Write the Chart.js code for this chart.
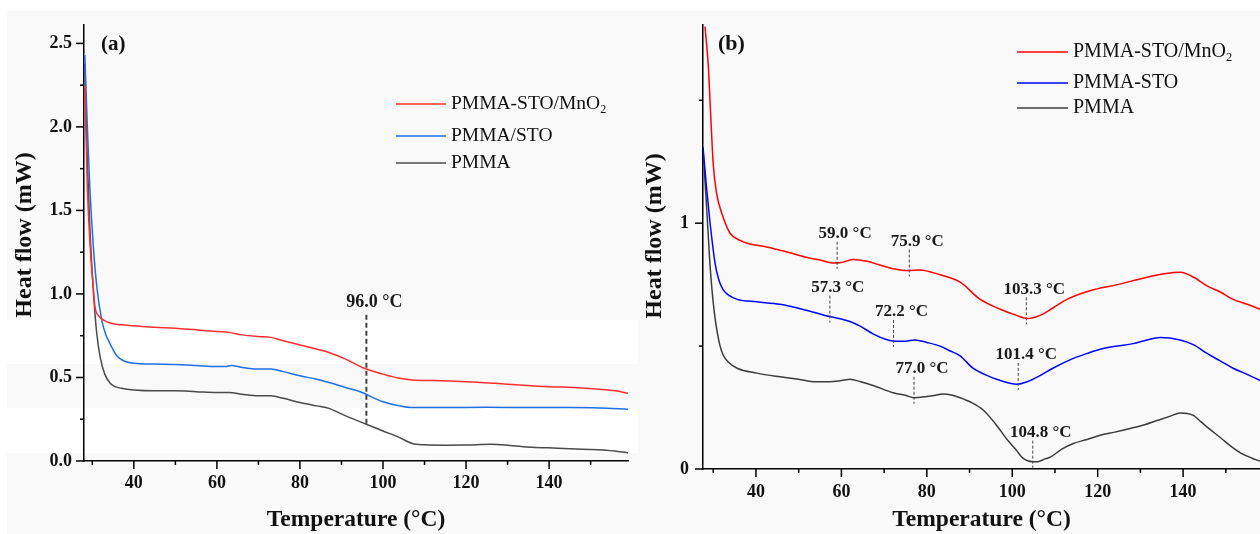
<!DOCTYPE html>
<html>
<head>
<meta charset="utf-8">
<script src="https://cdn.jsdelivr.net/npm/chart.js@4.4.1/dist/chart.umd.min.js"></script>
<style>
body { margin:0; background:#fff; width:1260px; height:534px; position:relative; overflow:hidden; }
#fondo { position:absolute; left:7px; top:11px; width:1253px; height:523px; background:#f9f9f9; }
.franja { position:absolute; left:7px; width:631px; background:#fff; }
canvas { position:absolute; top:0; }
</style>
</head>
<body>
<div id="fondo"></div>
<div class="franja" style="top:320px;height:44px"></div>
<div class="franja" style="top:408px;height:45px"></div>
<canvas id="dscA" width="640" height="534" style="left:0"></canvas>
<canvas id="dscB" width="620" height="534" style="left:640px"></canvas>
<script>
// ---- panel (a): temperatura (°C) y flujo de calor (mW)
const aTempMnO2 = [28.2,28.8,29.6,30.2,30.6,31.5,32.6,34.5,37,40,45,50,55,60,63,66,70,73,76,80,84,87,91,95,100,104,107,112,120,127,133,140,146,152,156,159];
const aFlowMnO2 = [2.25,1.64,1.24,1.05,0.93,0.87,0.845,0.825,0.815,0.81,0.80,0.795,0.785,0.775,0.77,0.755,0.745,0.74,0.72,0.695,0.67,0.65,0.61,0.56,0.52,0.495,0.485,0.482,0.475,0.465,0.455,0.445,0.44,0.43,0.42,0.405];
const aTempSTO = [28.2,28.8,29.4,30.2,31.1,32.3,33.2,34.3,35.9,37.5,40,45,50,55,60,62,63.5,66,70,73,76,80,84,87,91,95,98,100,104,107,115,125,135,145,152,159];
const aFlowSTO = [2.43,2.0,1.64,1.3,1.04,0.84,0.76,0.70,0.63,0.60,0.585,0.58,0.578,0.572,0.565,0.565,0.572,0.56,0.55,0.55,0.535,0.51,0.49,0.47,0.44,0.41,0.375,0.355,0.33,0.32,0.32,0.322,0.32,0.32,0.318,0.31];
const aTempPMMA = [28.2,28.8,29.4,30.2,31.0,31.9,33.0,34.3,35.5,37,40,45,50,55,60,63,66,70,73,76,80,84,87,91,95,100,104,107,110,115,120,126,130,136,142,148,153,159];
const aFlowPMMA = [2.38,1.8,1.4,1.04,0.78,0.62,0.52,0.465,0.445,0.435,0.425,0.42,0.42,0.415,0.41,0.41,0.40,0.39,0.39,0.375,0.35,0.33,0.315,0.27,0.23,0.18,0.14,0.105,0.097,0.095,0.096,0.10,0.095,0.082,0.077,0.07,0.066,0.05];
const aNames = ['PMMA-STO/MnO_2', 'PMMA/STO', 'PMMA'];
const aTgTemp = [96.0];
const aTgText = ['96.0 °C'];

// ---- panel (b)
const bTempMnO2 = [28.07,28.84,29.4,30.0,30.8,32.0,33.9,36.3,38.6,42,45.6,49,52,55,58,60,62.7,66,69,72.1,75.6,78.4,83.1,87.8,92.5,97.2,101,103.5,106.5,109.5,112.8,118.2,124.6,131.6,136,139.3,142.5,145.6,148.7,151.7,155,158];
const bFlowMnO2 = [1.80,1.64,1.44,1.24,1.12,1.04,0.96,0.93,0.915,0.905,0.89,0.875,0.86,0.85,0.838,0.84,0.852,0.845,0.83,0.815,0.807,0.81,0.79,0.76,0.69,0.65,0.625,0.612,0.625,0.655,0.69,0.725,0.75,0.78,0.795,0.80,0.78,0.745,0.72,0.69,0.67,0.65];
const bTempSTO = [27.6,28.4,29.2,30.4,31.3,32.3,33.8,35.6,40.2,45.6,52,57.3,60,62,64.5,67.4,70.5,72.5,75,77.2,80,83.1,85.5,87.8,90.8,93.5,97.2,101.1,103.5,106.5,109.5,114.3,117.5,121.3,124.5,128.3,131.5,134.6,139.3,142.5,145.6,148.7,151.7,155,158];
const bFlowSTO = [1.31,1.15,1.01,0.84,0.77,0.73,0.705,0.69,0.68,0.67,0.645,0.62,0.61,0.60,0.58,0.55,0.527,0.52,0.52,0.525,0.515,0.50,0.48,0.46,0.41,0.385,0.36,0.345,0.355,0.38,0.41,0.45,0.47,0.49,0.50,0.51,0.525,0.535,0.525,0.505,0.47,0.44,0.41,0.385,0.36];
const bTempPMMA = [27.6,28.5,29.2,29.7,30.3,30.9,31.6,32.3,33.5,35.6,40.2,45.6,50,53.4,57.3,60,62,64.5,67.4,72.1,75,77,80,82,83.6,86,87.8,90.5,93.2,96,98.8,100.8,102.5,104.8,106,107.5,108.9,111.5,114.3,117.5,120.6,124,127.6,131,133.9,137,139.3,141,142.4,144,146,148.7,151,153.4,156,158];
const bFlowPMMA = [1.30,1.05,0.84,0.73,0.63,0.56,0.50,0.465,0.435,0.41,0.39,0.375,0.365,0.355,0.355,0.36,0.365,0.355,0.34,0.31,0.30,0.29,0.295,0.30,0.305,0.30,0.29,0.27,0.24,0.185,0.12,0.08,0.044,0.03,0.03,0.04,0.048,0.08,0.104,0.12,0.137,0.15,0.165,0.18,0.197,0.215,0.228,0.226,0.218,0.195,0.165,0.128,0.095,0.066,0.045,0.032];
const bNames = ['PMMA-STO/MnO_2', 'PMMA-STO', 'PMMA'];
const bTgTemp = [59.0, 75.9, 57.3, 72.2, 77.0, 103.3, 101.4, 104.8];
const bTgText = ['59.0 °C', '75.9 °C', '57.3 °C', '72.2 °C', '77.0 °C', '103.3 °C', '101.4 °C', '104.8 °C'];
const bTgSerie = [0, 0, 1, 1, 2, 0, 1, 2];

const FAM = "'Liberation Serif', 'DejaVu Serif', serif";
Chart.defaults.font.family = FAM;
Chart.defaults.color = '#111';

function multiplo(v, paso) {
    return Math.abs(v / paso - Math.round(v / paso)) < 1e-6;
}

// marcas cada "paso" dentro de [min, max]
function marcas(min, max, paso) {
    const out = [];
    for (let k = Math.ceil(min / paso - 1e-9); k * paso <= max + 1e-9; k++) {
        out.push({ value: +(k * paso).toFixed(6) });
    }
    return out;
}

function interp(xs, ys, x) {
    for (let i = 1; i < xs.length; i++) {
        if (x <= xs[i]) {
            const f = (x - xs[i-1]) / (xs[i] - xs[i-1]);
            return ys[i-1] + f * (ys[i] - ys[i-1]);
        }
    }
    return ys[ys.length - 1];
}

function crearGrafico(id, p) {
    // marcas mayores/menores, titulo Y, leyenda, etiqueta del panel y lineas de Tg
    const extras = {
        id: 'extras',
        afterDraw(chart) {
            const ctx = chart.ctx;
            const xs = chart.scales.x, ys = chart.scales.y, area = chart.chartArea;
            ctx.save();
            ctx.strokeStyle = '#000';
            ctx.lineWidth = 1.5;
            xs.ticks.forEach(t => {
                const px = xs.getPixelForValue(t.value);
                const len = multiplo(t.value, p.xMajor) ? 8 : 4;
                ctx.beginPath(); ctx.moveTo(px, area.bottom); ctx.lineTo(px, area.bottom + len); ctx.stroke();
            });
            ys.ticks.forEach(t => {
                const py = ys.getPixelForValue(t.value);
                const len = multiplo(t.value, p.yMajor) ? 8 : 4;
                ctx.beginPath(); ctx.moveTo(area.left - len, py); ctx.lineTo(area.left, py); ctx.stroke();
            });

            // titulo del eje Y, un poco por encima del centro
            ctx.save();
            ctx.translate(p.yTitle.x, p.yTitle.y);
            ctx.rotate(-Math.PI / 2);
            ctx.font = 'bold 24px ' + FAM;
            ctx.fillStyle = '#111';
            ctx.textAlign = 'center';
            ctx.textBaseline = 'middle';
            ctx.fillText('Heat flow (mW)', 0, 0);
            ctx.restore();

            // lineas de Tg
            const m = p.marks;
            ctx.strokeStyle = m.color;
            ctx.lineWidth = m.width;
            ctx.setLineDash(m.dash);
            ctx.fillStyle = '#1a1a1a';
            ctx.font = 'bold ' + m.font + 'px ' + FAM;
            ctx.textAlign = 'center';
            ctx.textBaseline = 'middle';
            m.temps.forEach((T, i) => {
                const sLo = p.series[m.low[i]], sHi = p.series[m.high[i]];
                const px = xs.getPixelForValue(T);
                const yLo = ys.getPixelForValue(interp(sLo.temp, sLo.flow, T)) + m.below;
                const yHi = ys.getPixelForValue(interp(sHi.temp, sHi.flow, T)) - m.above;
                ctx.beginPath(); ctx.moveTo(px, yHi); ctx.lineTo(px, yLo); ctx.stroke();
                ctx.fillText(m.texts[i], px + 8, yHi - m.gap);
            });
            ctx.setLineDash([]);

            // leyenda
            const lg = p.legend;
            ctx.textAlign = 'left';
            p.series.forEach((s, i) => {
                const y = lg.ys[i];
                ctx.strokeStyle = s.color;
                ctx.lineWidth = 1.5;
                ctx.beginPath(); ctx.moveTo(lg.x0, y); ctx.lineTo(lg.x1, y); ctx.stroke();
                const partes = s.name.split('_');
                ctx.fillStyle = '#111';
                ctx.font = lg.font + 'px ' + FAM;
                ctx.fillText(partes[0], lg.x1 + 5, y);
                if (partes[1]) {
                    const w = ctx.measureText(partes[0]).width;
                    ctx.font = (lg.font * 0.62) + 'px ' + FAM;
                    ctx.fillText(partes[1], lg.x1 + 5 + w, y + lg.font * 0.3);
                }
            });

            ctx.font = 'bold ' + p.panel.font + 'px ' + FAM;
            ctx.fillStyle = '#111';
            ctx.fillText(p.panel.text, p.panel.x, p.panel.y);
            ctx.restore();
        }
    };

    return new Chart(document.getElementById(id), {
        type: 'line',
        data: {
            datasets: p.series.map(s => ({
                label: s.name.replace('_', ''),
                data: s.temp.map((t, i) => ({x: t, y: s.flow[i]})),
                borderColor: s.color,
                borderWidth: 1.5,
                pointRadius: 0,
                fill: false,
                cubicInterpolationMode: 'monotone'
            }))
        },
        options: {
            responsive: false,
            animation: false,
            devicePixelRatio: 1,
            layout: { padding: { left: 0, top: p.padTop, right: p.padRight, bottom: 0 } },
            plugins: { legend: { display: false }, tooltip: { enabled: false } },
            scales: {
                x: {
                    type: 'linear', min: p.xMin, max: p.xMax,
                    afterBuildTicks: s => { s.ticks = marcas(p.xMin, p.xMax, 10); },
                    afterFit: s => { s.height = p.xHeight; },
                    grid: { drawOnChartArea: false, drawTicks: false },
                    border: { color: '#000', width: 1.5 },
                    ticks: {
                        autoSkip: false, maxRotation: 0, padding: p.xPad,
                        font: { size: 18, weight: 'bold' },
                        callback: v => multiplo(v, p.xMajor) ? String(Math.round(v)) : ''
                    },
                    title: { display: true, text: 'Temperature (°C)', font: { size: 23.5, weight: 'bold' }, padding: { top: 0, bottom: 0 } }
                },
                y: {
                    type: 'linear', min: 0, max: p.yMax,
                    afterBuildTicks: s => { s.ticks = marcas(0, p.yMax, p.yStep); },
                    afterFit: s => { s.width = p.yWidth; },
                    grid: { drawOnChartArea: false, drawTicks: false },
                    border: { color: '#000', width: 1.5 },
                    ticks: {
                        autoSkip: false, padding: p.yPad,
                        font: { size: 18, weight: 'bold' },
                        callback: v => multiplo(v, p.yMajor) ? v.toFixed(p.yDec) : ''
                    }
                }
            }
        },
        plugins: [extras]
    });
}

crearGrafico('dscA', {
    series: [
        { name: aNames[0], temp: aTempMnO2, flow: aFlowMnO2, color: '#ff2e2e' },
        { name: aNames[1], temp: aTempSTO, flow: aFlowSTO, color: '#1e6ee6' },
        { name: aNames[2], temp: aTempPMMA, flow: aFlowPMMA, color: '#4a4a4a' }
    ],
    xMin: 28, xMax: 159, xMajor: 20, xPad: 12, xHeight: 73,
    yMax: 2.61, yStep: 0.25, yMajor: 0.5, yDec: 1, yPad: 12, yWidth: 84,
    yTitle: { x: 25, y: 235 },
    padTop: 25, padRight: 12,
    legend: { x0: 396, x1: 446, ys: [104, 136, 163], font: 19.5 },
    panel: { text: '(a)', x: 101, y: 45, font: 21 },
    marks: { temps: aTgTemp, texts: aTgText, low: [2], high: [0], above: 54, below: 0, gap: 12,
             font: 18, dash: [5, 3], width: 2, color: '#444' }
});

crearGrafico('dscB', {
    series: [
        { name: bNames[0], temp: bTempMnO2, flow: bFlowMnO2, color: '#ff0000' },
        { name: bNames[1], temp: bTempSTO, flow: bFlowSTO, color: '#0000ff' },
        { name: bNames[2], temp: bTempPMMA, flow: bFlowPMMA, color: '#3c3c3c' }
    ],
    xMin: 27.6, xMax: 158, xMajor: 20, xPad: 13, xHeight: 65,
    yMax: 1.807, yStep: 0.5, yMajor: 1, yDec: 0, yPad: 14, yWidth: 63,
    yTitle: { x: 14.5, y: 236 },
    padTop: 19, padRight: 0,
    legend: { x0: 377, x1: 428, ys: [52, 83, 108], font: 20 },
    panel: { text: '(b)', x: 78, y: 44, font: 22 },
    marks: { temps: bTgTemp, texts: bTgText, low: bTgSerie, high: bTgSerie, above: 21, below: 6, gap: 8,
             font: 17, dash: [3, 2], width: 1, color: '#444' }
});
</script>
</body>
</html>
